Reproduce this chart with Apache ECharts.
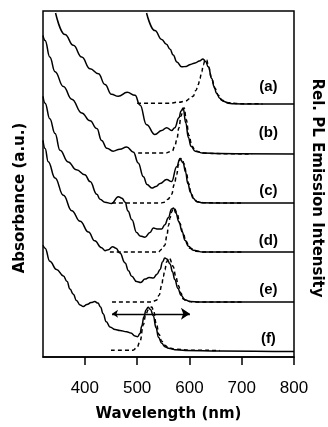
<!DOCTYPE html>
<html><head><meta charset="utf-8">
<script src="https://cdn.jsdelivr.net/npm/echarts@6/dist/echarts.min.js"></script>
<style>html,body{margin:0;padding:0;background:#fff}#c{width:328px;height:427px}</style>
</head><body><div id="c"></div>
<script>
const xTicks = [400, 500, 600, 700, 800];

const absA = [[518,351],[534,333],[547,324],[556,319],[563,314],[569,308],[576,301],[585,296],[594,296.5],[602,298.5],[611,300],[619,302],[626,304],[631,301.5],[636,296],[643,284],[647,276],[652,269],[658,264],[665,261],[674,259],[684,258.3],[720,258],[800,258]];
const plA = [[500,259],[560,259],[580,260],[592,261],[601,263.5],[607,266],[612.5,272],[617,278],[620,284],[623.5,291],[626.5,298],[630,303],[633,303],[636.5,296],[643,283],[649,274],[655,267],[662,262],[674,259.5],[697,258.5],[740,258.2]];

const absB = [[344,351],[362,329],[378,318],[394,306],[410,294],[426,289],[438.5,278],[451,268],[464,266],[481,270],[496,267],[505.5,257],[518,237],[534,227],[547,231],[556.5,234],[566,231],[572,234],[580,244],[584,251],[588,254],[593,239],[598,224],[603,215],[611,210],[626,208],[658,207.5],[800,207]];
const plB = [[502,208],[553,208],[567,210],[572,215],[576,222],[580,234],[584,246],[588,253],[590,254],[594,242],[599,226],[605,215],[612,210],[628,208],[649,207.5],[720,207]];

const absC = [[320,328],[324,323],[333,306],[343,291],[359,276],[375,263],[394,249],[410,241],[423,233],[432,221],[442,213],[454,210],[467,212],[480,214.3],[493,209],[502,198],[512,184],[519,176],[528,172.3],[536,174],[544,177],[556.5,181],[566,179],[575.6,194],[582,202.5],[588,198],[592.5,189],[597,177],[602,168],[607,162],[614,158.5],[626,157.3],[660,157],[800,157]];
const plC = [[452,157],[544,157],[553,158],[559,161],[566,166],[571,176],[575.6,186],[579,196],[583,202.5],[586,202],[590,197],[594,188],[598.5,177],[603,168],[608,162],[615,158.5],[628,157.3],[700,157]];

const absD = [[320,266],[324,259],[333,243],[343,228],[352.5,211],[368,199],[384,191],[400,186],[410,179],[423,166],[429,161],[438.5,158],[451,156.5],[464,163.5],[471,162],[477,158],[482.5,149],[490,140],[499,127],[505.5,123.5],[515,122.3],[524.6,127],[531,131.5],[540,130.5],[547,130.7],[553,135],[559.6,142],[566,151],[569.6,152],[574,147],[580,138],[586,128],[591.5,119],[598,113],[607,109],[626,107],[800,107]];
const plD = [[448,107],[540,107],[547.5,110],[553,114],[557,124],[560,134],[563,142],[566,148],[568.6,151.5],[572,151],[576,147],[582,136],[588,126],[593.4,118],[601,111],[612.5,108],[630,107],[700,107]];

const absE = [[320,221],[324,212.7],[330,199.3],[343,182.7],[359,165],[375,149.3],[391,138.5],[407,127.5],[419,118.5],[432,111.5],[438.5,108.5],[445,109.5],[453,112.5],[459.6,111],[467,106],[477,96],[483.5,88],[489.6,82.5],[499,77],[507,76],[515,79.5],[523,81],[531,80.5],[538,84.5],[544,89.3],[548.5,97],[553,101],[557,100],[563,95],[567.6,87],[572,79],[578,70],[584,63],[591.5,58.5],[601,56.7],[620,56],[800,56]];
const plE = [[452,56],[528,56],[537,58],[542,63],[547,73],[550,82],[553,89],[556.5,97],[559.6,101],[563,100],[566,96.5],[569,92],[574,82],[578.7,73],[584,65],[588,59.3],[595,57],[610,56],[700,56]];

const absF = [[320,114],[324,111],[333,97.7],[346,89.3],[359,82.7],[366,77],[371.6,69.3],[378,64],[384,57.7],[391,53],[397,51.5],[404,53.5],[412,55.5],[419,56.5],[425,55],[430,51],[435,44],[441,36],[448,30.7],[458,28],[467,27],[480,25.8],[488,24.5],[496,21.5],[501,20.7],[505.5,24],[509,32],[513,41],[517,48],[521,50.7],[525.5,48.5],[531,42],[536,30],[541,20],[547,14],[553,10.5],[560,9],[572,7.5],[592,6.7],[658,6.2],[800,5.5]];
const plF = [[450,7],[492,7],[500,10],[505.5,16],[512,33],[516,42],[521,48],[528,51],[531,48],[537,33],[542,23],[547,16],[553,12],[560,9.3],[572,8],[601,7],[658,6.5]];

const curveLabels = ['(a)', '(b)', '(c)', '(d)', '(e)', '(f)'];
const labelX = 751;
const labelY = [276, 229, 170, 119, 68, 19];
const arrowX = [452, 601];
const arrowY = 44;

const chart = echarts.init(document.getElementById('c'), null, {renderer: 'canvas'});

function solid(d) {
  return {type: 'line', data: d, symbol: 'none', smooth: 0.45, smoothMonotone: 'x',
    lineStyle: {color: '#000', width: 1.5}, silent: true, z: 3};
}
function dashed(d) {
  return {type: 'line', data: d, symbol: 'none', smooth: 0.45, smoothMonotone: 'x',
    lineStyle: {color: '#000', width: 1.5, type: [4, 3]}, silent: true, z: 2};
}

const series = [];
[absA, absB, absC, absD, absE, absF].forEach(d => series.push(solid(d)));
[plA, plB, plC, plD, plE, plF].forEach(d => series.push(dashed(d)));
series.push({
  type: 'lines', coordinateSystem: 'cartesian2d', silent: true,
  data: [{coords: [[arrowX[0], arrowY], [arrowX[1], arrowY]]}],
  symbol: ['arrow', 'arrow'], symbolSize: [6, 9],
  lineStyle: {color: '#000', width: 1.3, opacity: 1}
});
series.push({
  type: 'scatter', symbolSize: 0, silent: true,
  itemStyle: {opacity: 1, color: '#000'},
  data: labelY.map(y => [labelX, y]),
  label: {show: true, position: 'inside', formatter: p => curveLabels[p.dataIndex],
    fontFamily: 'Liberation Sans, Arial, sans-serif', fontWeight: 'bold', fontSize: 15, color: '#000', opacity: 1}
});

chart.setOption({
  animation: false,
  backgroundColor: '#fff',
  grid: {left: 43, right: 34, top: 11, bottom: 63, show: true, borderColor: '#000', borderWidth: 1.5, backgroundColor: 'transparent'},
  xAxis: {
    type: 'value', min: 320, max: 800,
    axisLine: {show: true, lineStyle: {color: '#000', width: 1.5}},
    axisTick: {show: true, customValues: xTicks, length: 8, lineStyle: {color: '#000', width: 1.5}},
    axisLabel: {customValues: xTicks, margin: 23, fontSize: 17, color: '#000', fontFamily: 'Liberation Sans, Arial, sans-serif'},
    splitLine: {show: false},
    name: 'Wavelength (nm)', nameLocation: 'middle', nameGap: 50,
    nameTextStyle: {fontFamily: 'DejaVu Sans', fontWeight: 'bold', fontSize: 15, color: '#000'}
  },
  yAxis: {
    type: 'value', min: 0, max: 353,
    axisLine: {show: false}, axisTick: {show: false}, axisLabel: {show: false}, splitLine: {show: false}
  },
  graphic: [
    {type: 'text', x: 20, y: 198, rotation: Math.PI / 2,
      style: {text: 'Absorbance (a.u.)', fontFamily: 'DejaVu Sans', fontWeight: 'bold', fontSize: 15, fill: '#000', align: 'center', verticalAlign: 'middle'}},
    {type: 'text', x: 317, y: 188, rotation: -Math.PI / 2,
      style: {text: 'Rel. PL Emission Intensity', fontFamily: 'DejaVu Sans', fontWeight: 'bold', fontSize: 15, fill: '#000', align: 'center', verticalAlign: 'middle'}}
  ],
  series: series
});
</script>
</body></html>
